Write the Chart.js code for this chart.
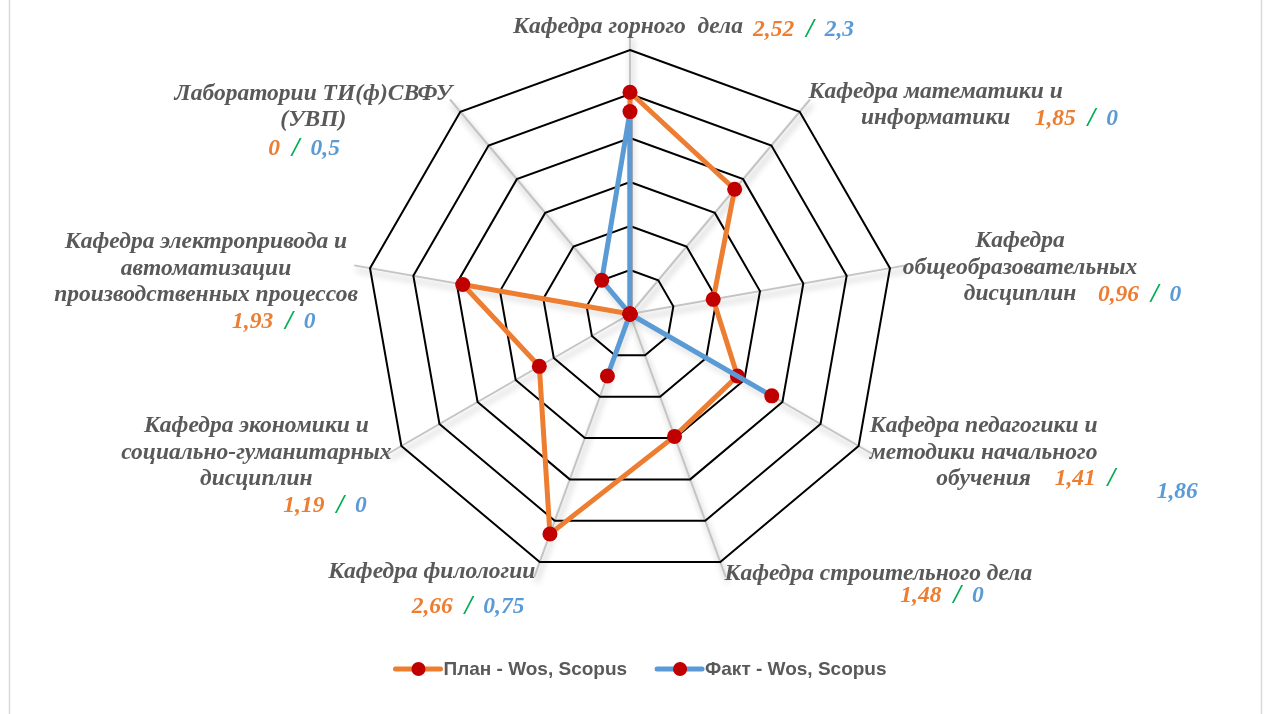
<!DOCTYPE html>
<html>
<head>
<meta charset="utf-8">
<script src="https://cdn.jsdelivr.net/npm/chart.js@4.4.1/dist/chart.umd.min.js"></script>
<style>
  html, body { margin: 0; padding: 0; background: #fff; }
  #chart { display: block; }
</style>
</head>
<body>
<canvas id="chart" width="1266" height="714"></canvas>
<script>
const categories = [
  ['Кафедра горного  дела'],
  ['Кафедра математики и', 'информатики'],
  ['Кафедра', 'общеобразовательных', 'дисциплин'],
  ['Кафедра педагогики и', 'методики начального', 'обучения'],
  ['Кафедра строительного дела'],
  ['Кафедра филологии'],
  ['Кафедра экономики и', 'социально-гуманитарных', 'дисциплин'],
  ['Кафедра электропривода и', 'автоматизации', 'производственных процессов'],
  ['Лаборатории ТИ(ф)СВФУ', '(УВП)']
];
const planValues = [2.52, 1.85, 0.96, 1.41, 1.48, 2.66, 1.19, 1.93, 0];
const factValues = [2.3, 0, 0, 1.86, 0, 0.75, 0, 0, 0.5];
const seriesNames = ['План - Wos, Scopus', 'Факт - Wos, Scopus'];

const ORANGE = '#ED7D31';
const BLUE = '#5B9BD5';
const GREEN = '#00B050';
const MARKER = '#C00000';
const TEXT = '#595959';

// смещения подписей относительно вершины внешнего кольца
const labelPos = [
  { cx: -2, by: -17, px: 123, py: -14 },
  { cx: 136, by: -14, px: 235, py: 13 },
  { cx: 130, by: -21, px: 208, py: 33 },
  { cx: 125, by: -14, px: 196, py: 39, fx: 298, fy: 52 },
  { cx: 158, by: 18, px: 180, py: 40 },
  { cx: -108, by: 16, px: -128, py: 51 },
  { cx: -145, by: -14, px: -118, py: 66 },
  { cx: -164, by: -20, px: -138, py: 60 },
  { cx: -147, by: -12, px: -192, py: 43 }
];

const fmt = v => String(v).replace('.', ',');

const radarDecor = {
  id: 'radarDecor',
  beforeDraw(chart) {
    const ctx = chart.ctx;
    const r = chart.scales.r;
    ctx.save();
    // рамка области диаграммы
    ctx.strokeStyle = '#d9d9d9';
    ctx.lineWidth = 1.5;
    ctx.beginPath();
    ctx.moveTo(9.5, 0); ctx.lineTo(9.5, chart.height);
    ctx.moveTo(1261.5, 0); ctx.lineTo(1261.5, chart.height);
    ctx.stroke();
    // лучи с тенью
    ctx.strokeStyle = '#c4c4c4';
    ctx.lineWidth = 2;
    ctx.shadowColor = 'rgba(0,0,0,0.3)';
    ctx.shadowBlur = 6;
    ctx.shadowOffsetX = 2;
    ctx.shadowOffsetY = 5;
    for (let i = 0; i < categories.length; i++) {
      const p = r.getPointPosition(i, r.drawingArea + 16);
      ctx.beginPath();
      ctx.moveTo(r.xCenter, r.yCenter);
      ctx.lineTo(p.x, p.y);
      ctx.stroke();
    }
    ctx.restore();
  },
  afterDraw(chart) {
    const ctx = chart.ctx;
    const r = chart.scales.r;
    const labelFont = 'italic bold 23.5px "Liberation Serif"';
    const slashFont = 'italic bold 27px "Liberation Serif"';
    ctx.save();
    ctx.textBaseline = 'alphabetic';
    categories.forEach((lines, i) => {
      const a = r.getPointPosition(i, r.drawingArea);
      const L = labelPos[i];
      ctx.font = labelFont;
      ctx.fillStyle = TEXT;
      ctx.textAlign = 'center';
      lines.forEach((t, k) => ctx.fillText(t, a.x + L.cx, a.y + L.by + k * 26.5));
      ctx.textAlign = 'left';
      let x = a.x + L.px;
      const y = a.y + L.py;
      const p = fmt(planValues[i]);
      ctx.fillStyle = ORANGE;
      ctx.fillText(p, x, y);
      x += ctx.measureText(p).width + 12;
      ctx.font = slashFont;
      ctx.fillStyle = GREEN;
      ctx.fillText('/', x, y + 1);
      x += ctx.measureText('/').width + 11;
      ctx.font = labelFont;
      ctx.fillStyle = BLUE;
      if (L.fx !== undefined) ctx.fillText(fmt(factValues[i]), a.x + L.fx, a.y + L.fy);
      else ctx.fillText(fmt(factValues[i]), x, y);
    });

    // легенда
    ctx.font = 'bold 19px "Liberation Sans"';
    ctx.textBaseline = 'middle';
    const colors = [ORANGE, BLUE];
    const widths = seriesNames.map(n => 48 + ctx.measureText(n).width);
    const gap = 30;
    let lx = chart.width / 2 + 8 - (widths[0] + widths[1] + gap) / 2;
    const ly = 669;
    seriesNames.forEach((n, k) => {
      ctx.strokeStyle = colors[k];
      ctx.lineWidth = 5;
      ctx.lineCap = 'round';
      ctx.beginPath();
      ctx.moveTo(lx, ly); ctx.lineTo(lx + 45, ly);
      ctx.stroke();
      ctx.fillStyle = MARKER;
      ctx.beginPath();
      ctx.arc(lx + 23, ly, 7, 0, Math.PI * 2);
      ctx.fill();
      ctx.fillStyle = TEXT;
      ctx.fillText(n, lx + 48, ly + 1);
      lx += widths[k] + gap;
    });
    ctx.restore();
  }
};

new Chart(document.getElementById('chart'), {
  type: 'radar',
  data: {
    labels: categories,
    datasets: [
      {
        label: seriesNames[0],
        data: planValues,
        borderColor: ORANGE,
        borderWidth: 5,
        fill: false,
        pointRadius: 7.5,
        pointBackgroundColor: MARKER,
        pointBorderColor: MARKER,
        pointBorderWidth: 0,
        order: 2
      },
      {
        label: seriesNames[1],
        data: factValues,
        borderColor: BLUE,
        borderWidth: 5,
        fill: false,
        pointRadius: 7.5,
        pointBackgroundColor: MARKER,
        pointBorderColor: MARKER,
        pointBorderWidth: 0,
        order: 1
      }
    ]
  },
  options: {
    responsive: false,
    animation: false,
    layout: { padding: { top: 50, bottom: 136, left: 366, right: 372 } },
    plugins: {
      legend: { display: false },
      tooltip: { enabled: false }
    },
    scales: {
      r: {
        min: 0,
        max: 3,
        ticks: { display: false, stepSize: 0.5 },
        grid: { color: '#000', lineWidth: 2 },
        angleLines: { display: false },
        pointLabels: { display: false }
      }
    }
  },
  plugins: [radarDecor]
});
</script>
</body>
</html>
